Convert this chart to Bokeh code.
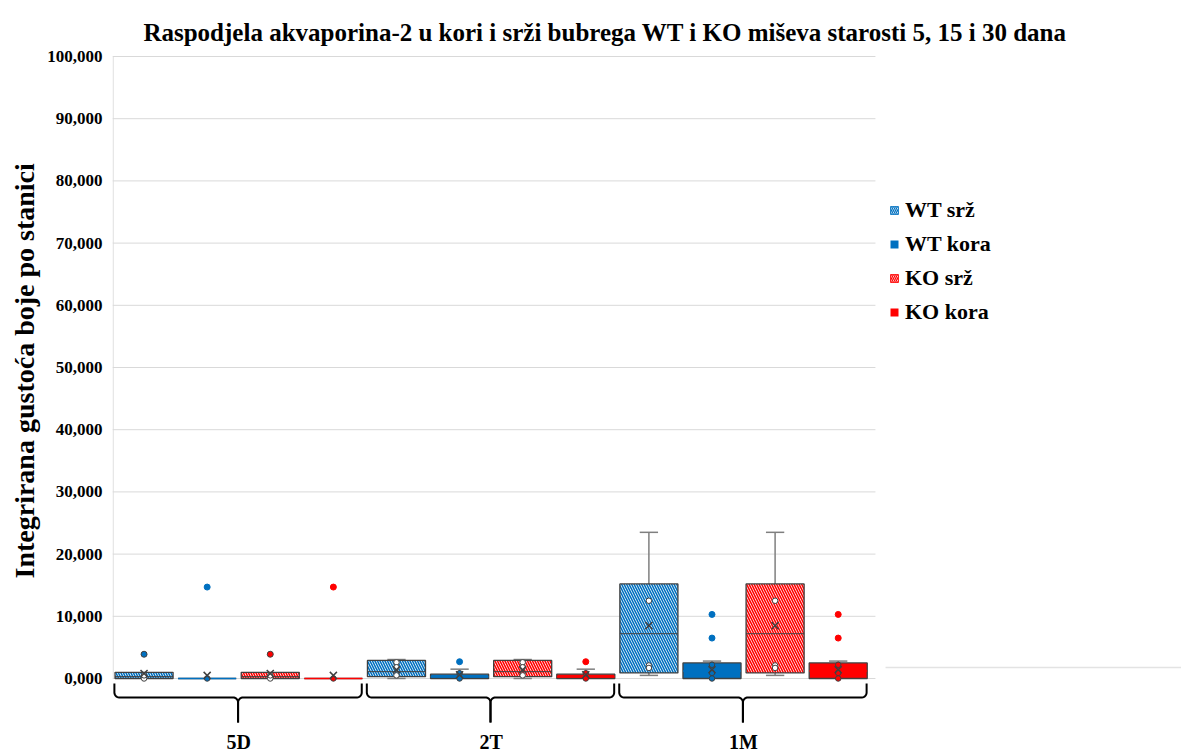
import numpy as np
from bokeh.plotting import figure
from bokeh.models import Range1d, FixedTicker, Label, Legend, LegendItem, Title
from bokeh.embed import file_html
from bokeh.resources import INLINE

# ---------------- data ----------------
groups = ["5D", "2T", "1M"]
series = ["WT srž", "WT kora", "KO srž", "KO kora"]
colors = ["#0070C0", "#0070C0", "#FF0000", "#FF0000"]
hatched = [True, False, True, False]

# statistics per series (rows) and group (columns)
low = [[0, 0, 500], [0, 0, 0], [0, 0, 500], [0, 0, 0]]
q1 = [[0, 300, 900], [0, 0, 0], [0, 300, 900], [0, 0, 0]]
med = [[300, 1100, 7200], [0, 300, 1200], [300, 1100, 7200], [0, 300, 1200]]
q3 = [[1000, 2900, 15200], [0, 700, 2500], [1000, 2900, 15200], [0, 700, 2500]]
high = [[1000, 3050, 23500], [0, 1500, 2800], [1000, 3050, 23500], [0, 1500, 2800]]
mean = [[800, 1400, 8500], [500, 600, 1400], [800, 1400, 8500], [500, 600, 1400]]
inner = [
    [[0, 500], [2600, 1800, 500], [12500, 2100, 1700]],
    [[0], [850, 0], [2200, 900, 0]],
    [[0, 500], [2600, 1800, 500], [12500, 2100, 1700]],
    [[0], [850, 0], [2200, 900, 0]],
]
outliers = [
    [[3900], [], []],
    [[14700], [2700], [10300, 6500]],
    [[3900], [], []],
    [[14700], [2700], [10300, 6500]],
]
yticks = [0, 10000, 20000, 30000, 40000, 50000, 60000, 70000, 80000, 90000, 100000]
ytick_labels = ["0,000", "10,000", "20,000", "30,000", "40,000", "50,000",
                "60,000", "70,000", "80,000", "90,000", "100,000"]
title_text = "Raspodjela akvaporina-2 u kori i srži bubrega WT i KO miševa starosti 5, 15 i 30 dana"
ylabel_text = "Integrirana gustoća boje po stanici"

# ---------------- figure ----------------
FONT = "Liberation Serif"
X_PLOT_END = 12.09
p = figure(width=1181, height=753, title=None, toolbar_location=None,
           output_backend="svg", x_axis_location=None,
           x_range=Range1d(0, 16.94), y_range=Range1d(-12058, 109003),
           min_border_left=112, min_border_right=0, min_border_top=0,
           min_border_bottom=0)
p.outline_line_color = None
p.background_fill_color = "white"
p.xgrid.visible = False
p.ygrid.visible = False

ax = p.yaxis[0]
ax.ticker = FixedTicker(ticks=yticks)
ax.major_label_overrides = {t: l for t, l in zip(yticks, ytick_labels)}
ax.axis_line_color = None
ax.major_tick_line_color = None
ax.minor_tick_line_color = None
ax.major_tick_out = 0
ax.major_tick_in = 0
ax.minor_tick_out = 0
ax.major_label_standoff = 10
ax.major_label_text_font = FONT
ax.major_label_text_font_style = "bold"
ax.major_label_text_font_size = "17px"
ax.major_label_text_color = "black"

# y-axis title (left panel, starting where the reference starts it)
p.add_layout(Title(text=ylabel_text, align="left", offset=175, standoff=10,
                   text_font=FONT, text_font_style="bold", text_font_size="28px",
                   text_color="black"), "left")

# chart title
p.add_layout(Label(x=0.49, y=103907, text=title_text, text_align="left",
                   text_baseline="alphabetic", text_font=FONT, text_font_style="bold",
                   text_font_size="25px", text_color="black"))

# horizontal grid lines across the plot area, and its left edge
n = len(yticks)
p.segment(x0=[0] * n, y0=yticks, x1=[X_PLOT_END] * n, y1=yticks,
          line_color="#d9d9d9", line_width=1)
p.segment(x0=[0.01], y0=[yticks[0]], x1=[0.01], y1=[yticks[-1]],
          line_color="#d9d9d9", line_width=1)
# faint stray rule at the right of the reference
p.segment(x0=[12.25], y0=[1770], x1=[16.94], y1=[1770], line_color="#e3e3e3", line_width=1.5)

BW = 0.46
CAP = 0.145
DARK = "#404040"
legend_items = []
for j, s in enumerate(series):
    xs = np.array([4 * g + j + 0.5 for g in range(len(groups))])
    lo, a, m, b, hi = (np.array(v[j], dtype=float) for v in (low, q1, med, q3, high))
    # whiskers
    wl = lo < a
    wh = hi > b
    p.segment(x0=xs[wl], y0=lo[wl], x1=xs[wl], y1=a[wl], line_color="#7f7f7f", line_width=1.5)
    p.segment(x0=xs[wl] - CAP, y0=lo[wl], x1=xs[wl] + CAP, y1=lo[wl], line_color="#7f7f7f", line_width=1.5)
    p.segment(x0=xs[wh], y0=b[wh], x1=xs[wh], y1=hi[wh], line_color="#7f7f7f", line_width=1.5)
    p.segment(x0=xs[wh] - CAP, y0=hi[wh], x1=xs[wh] + CAP, y1=hi[wh], line_color="#7f7f7f", line_width=1.5)
    # boxes
    nan = [np.nan]
    if hatched[j]:
        p.quad(left=xs - BW, right=xs + BW, bottom=a, top=b, fill_color="white",
               hatch_pattern="left_diagonal_line", hatch_color=colors[j], hatch_scale=5,
               hatch_weight=1.6, line_color=DARK, line_width=1.3)
        p.segment(x0=xs - BW, y0=m, x1=xs + BW, y1=m, line_color=DARK, line_width=1)
        leg = p.quad(left=nan, right=nan, bottom=nan, top=nan, fill_color="white",
                     hatch_pattern="left_diagonal_line", hatch_color=colors[j], hatch_scale=4,
                     hatch_weight=1.3, line_color=colors[j], line_width=0.8)
    else:
        p.quad(left=xs - BW, right=xs + BW, bottom=a, top=b, fill_color=colors[j],
               line_color=DARK, line_width=1.3)
        p.segment(x0=xs - BW, y0=m, x1=xs + BW, y1=m, line_color=colors[j], line_width=1.5)
        leg = p.quad(left=nan, right=nan, bottom=nan, top=nan, fill_color=colors[j],
                     line_color=None)
    legend_items.append(LegendItem(label=s, renderers=[leg]))
    # inner points
    px, py = [], []
    for g in range(len(groups)):
        for v in inner[j][g]:
            px.append(xs[g]); py.append(v)
    p.scatter(px, py, size=5.5, fill_color="white" if hatched[j] else colors[j],
              line_color=DARK, line_width=1)
    # outliers
    ox, oy = [], []
    for g in range(len(groups)):
        for v in outliers[j][g]:
            ox.append(xs[g]); oy.append(v)
    p.scatter(ox, oy, size=6, fill_color=colors[j], line_color=DARK if hatched[j] else colors[j],
              line_width=1)
    # mean
    p.scatter(xs, mean[j], marker="x", size=10, line_color=DARK, line_width=1.5)

# group braces
Y_TOP, Y_MID, Y_BOT = -800, -3050, -7070
RX, RY = 0.08, 800
t = np.linspace(0, np.pi / 2, 10)
bxs, bys = [], []
for g in range(len(groups)):
    x0, x1 = 4 * g + 0.03, 4 * g + 3.95
    xc = (x0 + x1) / 2
    for sgn, xe in ((1, x0), (-1, x1)):
        ex = np.concatenate([[xe], xe + sgn * RX * (1 - np.cos(t)),
                             xc - sgn * RX + sgn * RX * np.sin(t), [xc]])
        ey = np.concatenate([[Y_TOP], Y_MID + RY * (1 - np.sin(t)),
                             Y_MID - RY + RY * np.cos(t), [Y_BOT]])
        bxs.append(list(ex)); bys.append(list(ey))
p.multi_line(bxs, bys, line_color="black", line_width=2)

for g, name in enumerate(groups):
    p.add_layout(Label(x=4 * g + 2, y=-10130, text=name, text_align="center",
                       text_baseline="middle", text_font=FONT, text_font_style="bold",
                       text_font_size="20px", text_color="black"))

legend = Legend(items=legend_items, location=(777, 428), orientation="vertical",
                label_text_font=FONT, label_text_font_style="bold",
                label_text_font_size="22px", label_text_color="black",
                glyph_width=10, glyph_height=10, label_height=26, label_standoff=6,
                spacing=8, padding=0, margin=0, border_line_color=None,
                background_fill_alpha=0)
p.add_layout(legend)

open("out.html", "w").write(file_html(p, INLINE))
